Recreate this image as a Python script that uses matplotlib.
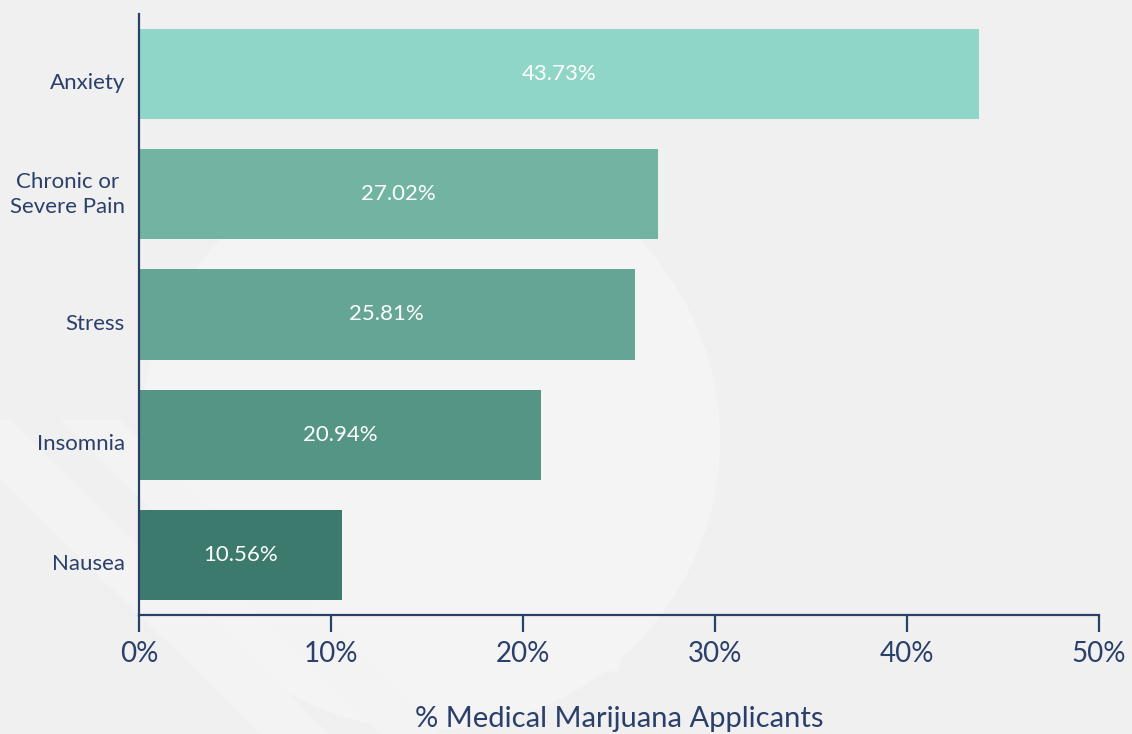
import matplotlib
matplotlib.use("Agg")
import matplotlib.pyplot as plt
from matplotlib.patches import Circle, Polygon
from matplotlib.ticker import FuncFormatter
from matplotlib.transforms import ScaledTranslation
import numpy as np

plt.rcParams["font.family"] = ["Lato", "DejaVu Sans"]

conditions = ["Anxiety", "Chronic or\nSevere Pain", "Stress", "Insomnia", "Nausea"]
shares = [43.73, 27.02, 25.81, 20.94, 10.56]
bar_colors = ["#90d6c8", "#72b4a2", "#64a596", "#559585", "#3d7a6e"]

NAVY = "#2b3f6b"
BG = "#f0f0f0"
LIGHT = "#f4f4f4"

fig = plt.figure(figsize=(11.32, 7.34), dpi=100, facecolor=BG)

# faint decorative shapes behind the chart (figure pixel coords, y from top)
W, H = 1132, 734
deco = fig.add_axes([0, 0, 1, 1], zorder=-1)
deco.set_xlim(0, W)
deco.set_ylim(H, 0)
deco.axis("off")
deco.add_patch(Circle((430, 440), 290, color=LIGHT, lw=0))
deco.add_patch(Polygon([(230, 640), (617, 672), (680, 470)], closed=True, color=LIGHT, lw=0))
for x0, w in [(-60, 70), (60, 60)]:
    deco.add_patch(Polygon([(x0, 420), (x0 + w, 420), (x0 + w + 320, H), (x0 + 320, H)],
                           closed=True, color="#f3f3f3", lw=0))

ax = fig.add_axes([139 / W, 1 - 615 / H, 960 / W, 601 / H])
ax.set_facecolor("none")

ypos = np.arange(len(conditions))[::-1]
bars = ax.barh(ypos, shares, height=0.75, color=bar_colors, zorder=2)
for bar, val in zip(bars, shares):
    ax.text(bar.get_width() / 2, bar.get_y() + bar.get_height() / 2, f"{val:.2f}%",
            ha="center", va="center", color="white", fontsize=16, zorder=3)

ax.set_xlim(0, 50)
ax.set_ylim(-0.5, 4.5)
ax.set_xticks([0, 10, 20, 30, 40, 50])
ax.xaxis.set_major_formatter(FuncFormatter(lambda v, _: f"{v:.0f}%"))
ax.set_yticks([])

# category names, drawn as text so single-line ones can sit a bit low
ylab_tf = ax.get_yaxis_transform()
for y, name in zip(ypos, conditions):
    dy = 0 if "\n" in name else -9
    tf = ylab_tf + ScaledTranslation(-14 / 100, dy / 100, fig.dpi_scale_trans)
    ax.text(0, y, name, transform=tf, ha="right", va="center",
            multialignment="center", color=NAVY, fontsize=16, linespacing=1.3)

for side in ("top", "right"):
    ax.spines[side].set_visible(False)
for side in ("left", "bottom"):
    ax.spines[side].set_color(NAVY)
    ax.spines[side].set_linewidth(1.6)

ax.tick_params(axis="x", direction="out", length=12, width=1.6, color=NAVY,
               labelcolor=NAVY, labelsize=20, pad=7)

ax.set_xlabel("% Medical Marijuana Applicants", color=NAVY, fontsize=21, labelpad=28)

fig.savefig("out.png", dpi=100, facecolor=BG)
